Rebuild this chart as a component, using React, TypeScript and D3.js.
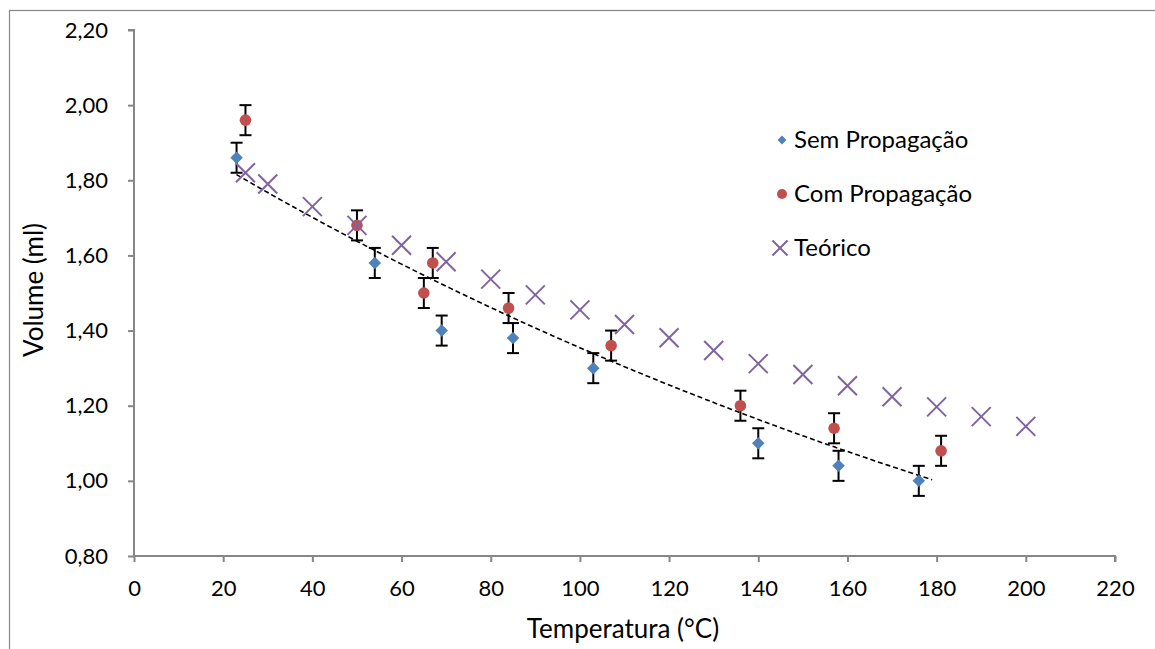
import { useEffect, useRef } from "react";
import * as d3 from "d3";

// readings
const semX = [23, 54, 69, 85, 103, 140, 158, 176];
const semY = [1.86, 1.58, 1.4, 1.38, 1.3, 1.1, 1.04, 1.0];
const comX = [25, 50, 65, 67, 84, 107, 136, 157, 181];
const comY = [1.96, 1.68, 1.5, 1.58, 1.46, 1.36, 1.2, 1.14, 1.08];
const teoX = [25, 30, 40, 50, 60, 70, 80, 90, 100, 110, 120, 130, 140, 150, 160, 170, 180, 190, 200];
const teoY = [1.82, 1.79, 1.73, 1.68, 1.627, 1.583, 1.537, 1.495, 1.455, 1.416, 1.381, 1.347, 1.312, 1.283, 1.253, 1.224, 1.197, 1.171, 1.145];
const errBar = 0.04;
// exponential trendline end points (Sem Propagação)
const trendX = [23, 179];
const trendY = [1.815, 1.003];
const xTicks = [0, 20, 40, 60, 80, 100, 120, 140, 160, 180, 200, 220];
const yTicks = [0.8, 1.0, 1.2, 1.4, 1.6, 1.8, 2.0, 2.2];
const labels = ["Sem Propagação", "Com Propagação", "Teórico"];

const BLUE = "#4F81BD";
const RED = "#C0504D";
const PURPLE = "#8064A2";
const AXIS = "#868686";
const FONT = "Lato, 'Open Sans', sans-serif";

export default function App() {
  const ref = useRef<SVGSVGElement>(null);

  useEffect(() => {
    const el = ref.current;
    if (!el) return;
    const svg = d3.select(el);
    svg.selectAll("*").remove();

    const x = d3.scaleLinear().domain([0, 220]).range([134, 1115]);
    const y = d3.scaleLinear().domain([0.8, 2.2]).range([556, 30]);

    svg.append("rect")
      .attr("x", 9.5).attr("y", 10.5)
      .attr("width", 1160).attr("height", 660)
      .attr("fill", "white").attr("stroke", AXIS).attr("stroke-width", 1.2);

    // axes
    const yAxis = svg.append("g").attr("transform", `translate(${x(0)},0)`)
      .call(d3.axisLeft(y).tickValues(yTicks).tickSize(6).tickPadding(20)
        .tickFormat((d) => d3.format(".2f")(+d).replace(".", ",")));
    const xAxis = svg.append("g").attr("transform", `translate(0,${y(0.8)})`)
      .call(d3.axisBottom(x).tickValues(xTicks).tickSize(6).tickPadding(18)
        .tickFormat((d) => String(d)));
    [yAxis, xAxis].forEach((ga) => {
      ga.select(".domain").attr("stroke", AXIS).attr("stroke-width", 2);
      ga.selectAll(".tick line").attr("stroke", AXIS).attr("stroke-width", 2);
      ga.selectAll("text").attr("fill", "#000").attr("font-size", 22).attr("font-family", FONT);
    });
    yAxis.select(".domain").attr("d", `M-6,${y(2.2)}H0V${y(0.8)}`);
    xAxis.select(".domain").attr("d", `M${x(0)},0H${x(220)}V6`);

    svg.append("text")
      .attr("transform", `translate(43,290) rotate(-90)`)
      .attr("text-anchor", "middle").attr("font-size", 26).attr("font-family", FONT)
      .text("Volume (ml)");
    svg.append("text")
      .attr("x", 623).attr("y", 638)
      .attr("text-anchor", "middle").attr("font-size", 26).attr("font-family", FONT)
      .text("Temperatura (°C)");

    // trendline (exponential through read end points)
    const b = Math.log(trendY[1] / trendY[0]) / (trendX[1] - trendX[0]);
    const trendPts = d3.range(trendX[0], trendX[1] + 0.5, 1).map((t) => [t, trendY[0] * Math.exp(b * (t - trendX[0]))]);
    svg.append("path")
      .attr("d", d3.line().x((d) => x(d[0])).y((d) => y(d[1]))(trendPts as [number, number][]))
      .attr("fill", "none").attr("stroke", "#000").attr("stroke-width", 1.6)
      .attr("stroke-dasharray", "5,3");

    // error bars
    const errors = (xs: number[], ys: number[]) => {
      const g = svg.append("g").attr("stroke", "#000").attr("stroke-width", 2);
      xs.forEach((xv, i) => {
        const cx = x(xv), top = y(ys[i] + errBar), bot = y(ys[i] - errBar);
        g.append("line").attr("x1", cx).attr("x2", cx).attr("y1", top).attr("y2", bot);
        g.append("line").attr("x1", cx - 6).attr("x2", cx + 6).attr("y1", top).attr("y2", top);
        g.append("line").attr("x1", cx - 6).attr("x2", cx + 6).attr("y1", bot).attr("y2", bot);
      });
    };
    errors(semX, semY);
    errors(comX, comY);

    const diamond = d3.symbol().type(d3.symbolDiamond2).size(100);
    svg.append("g").selectAll("path").data(semX).join("path")
      .attr("d", diamond)
      .attr("transform", (d, i) => `translate(${x(d)},${y(semY[i])})`)
      .attr("fill", BLUE);

    svg.append("g").selectAll("circle").data(comX).join("circle")
      .attr("cx", (d) => x(d)).attr("cy", (d, i) => y(comY[i]))
      .attr("r", 5.8).attr("fill", RED);

    const cross = (g: d3.Selection<SVGGElement, unknown, null, undefined>, cx: number, cy: number, s: number) => {
      g.append("path")
        .attr("d", `M${cx - s},${cy - s}L${cx + s},${cy + s}M${cx - s},${cy + s}L${cx + s},${cy - s}`)
        .attr("stroke", PURPLE).attr("stroke-width", 2).attr("fill", "none");
    };
    const tg = svg.append("g");
    teoX.forEach((d, i) => cross(tg, x(d), y(teoY[i]), 9.5));

    // legend
    const leg = svg.append("g").attr("font-family", FONT).attr("font-size", 24);
    leg.append("path").attr("d", d3.symbol().type(d3.symbolDiamond2).size(50)()!)
      .attr("transform", "translate(782,140)").attr("fill", BLUE);
    leg.append("circle").attr("cx", 782).attr("cy", 194).attr("r", 5).attr("fill", RED);
    const lg = leg.append("g");
    cross(lg, 780, 248, 7.5);
    labels.forEach((t, i) => {
      leg.append("text").attr("x", 794).attr("y", 140 + i * 54).attr("dy", "0.35em").text(t);
    });
  }, []);

  return (
    <svg
      ref={ref}
      width={1155}
      height={649}
      style={{ position: "absolute", left: 0, top: 0, background: "white" }}
    />
  );
}
